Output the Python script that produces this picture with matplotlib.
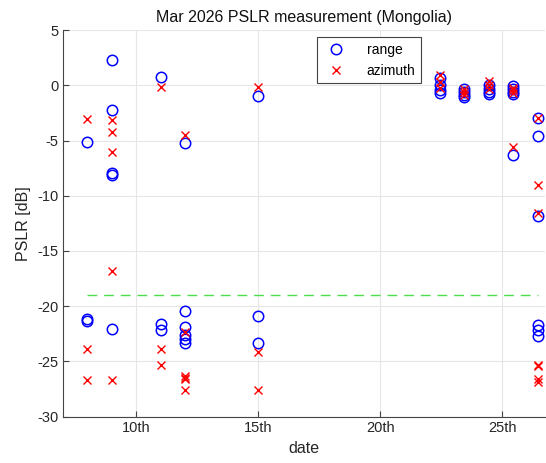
import matplotlib
matplotlib.use('Agg')
import matplotlib.pyplot as plt

plt.rcParams['font.family'] = ['Liberation Sans', 'DejaVu Sans']

# measurement days (day of March 2026)
days = [8, 9, 11, 12, 15, 22.45, 23.45, 24.45, 25.45, 26.45]

range_vals = [
    [-5.1, -21.15, -21.35],
    [2.26, -2.2, -7.95, -8.1, -22.1],
    [0.72, -21.6, -22.2],
    [-5.2, -20.4, -21.9, -22.6, -22.95, -23.3],
    [-0.97, -20.9, -23.3],
    [0.63, 0.03, -0.43, -0.73],
    [-0.3, -0.6, -0.9, -1.1],
    [0.0, -0.3, -0.6, -0.75],
    [-0.1, -0.35, -0.6, -0.8, -6.3],
    [-3.0, -4.56, -11.8, -21.7, -22.2, -22.7],
]

azimuth_vals = [
    [-3.06, -23.9, -26.67],
    [-3.17, -4.23, -6.0, -16.85, -26.67],
    [-0.18, -23.9, -25.3],
    [-4.5, -22.35, -26.3, -26.5, -26.6, -27.6],
    [-0.12, -24.2, -27.6],
    [0.93, 0.33, -0.27],
    [-0.3, -0.6, -0.9],
    [0.4, 0.0, -0.3],
    [-0.2, -0.45, -0.7, -5.6],
    [-3.0, -9.03, -11.6, -25.3, -25.4, -26.6, -26.85],
]

threshold = -19
x_ticks = [10, 15, 20, 25]
x_labels = ['10th', '15th', '20th', '25th']

rx, ry = [], []
for d, vals in zip(days, range_vals):
    rx += [d] * len(vals)
    ry += vals
ax_x, ax_y = [], []
for d, vals in zip(days, azimuth_vals):
    ax_x += [d] * len(vals)
    ax_y += vals

fig = plt.figure(figsize=(5.46, 4.63), dpi=100)
ax = fig.add_axes([0.1154, 0.1004, 0.8827, 0.8346])

ax.plot(rx, ry, 'o', mfc='none', mec='blue', ms=7.5, mew=1.1, label='range')
ax.plot(ax_x, ax_y, 'x', color='red', ms=5.5, mew=1.0, label='azimuth')
ax.plot([days[0], days[-1]], [threshold, threshold], '--', color='#4cdc4c',
        lw=1.0, dashes=(7, 5))

ax.set_xlim(7, 26.75)
ax.set_ylim(-30, 5)
ax.set_xticks(x_ticks)
ax.set_xticklabels(x_labels)
ax.set_yticks(range(-30, 6, 5))
ax.set_yticklabels([str(v).replace('-', '-') for v in range(-30, 6, 5)])

ax.grid(True, color='#e6e6e6', lw=0.8)
ax.set_axisbelow(True)
for s in ['top', 'right']:
    ax.spines[s].set_visible(False)
for s in ['left', 'bottom']:
    ax.spines[s].set_color('#444444')
    ax.spines[s].set_linewidth(0.8)
ax.tick_params(direction='in', length=4, color='#444444', labelsize=10.5,
               labelcolor='#262626')

ax.set_title('Mar 2026 PSLR measurement (Mongolia)', fontsize=11.5, color='#111111')
ax.set_xlabel('date', fontsize=11.5, color='#262626')
ax.set_ylabel('PSLR [dB]', fontsize=11.5, color='#262626')

leg = ax.legend(loc='upper right', bbox_to_anchor=(0.743, 0.982), borderaxespad=0,
                fontsize=10, fancybox=False, framealpha=1, edgecolor='#444444',
                handletextpad=1.2, borderpad=0.4)
leg.get_frame().set_linewidth(0.8)

plt.savefig('out.png')
